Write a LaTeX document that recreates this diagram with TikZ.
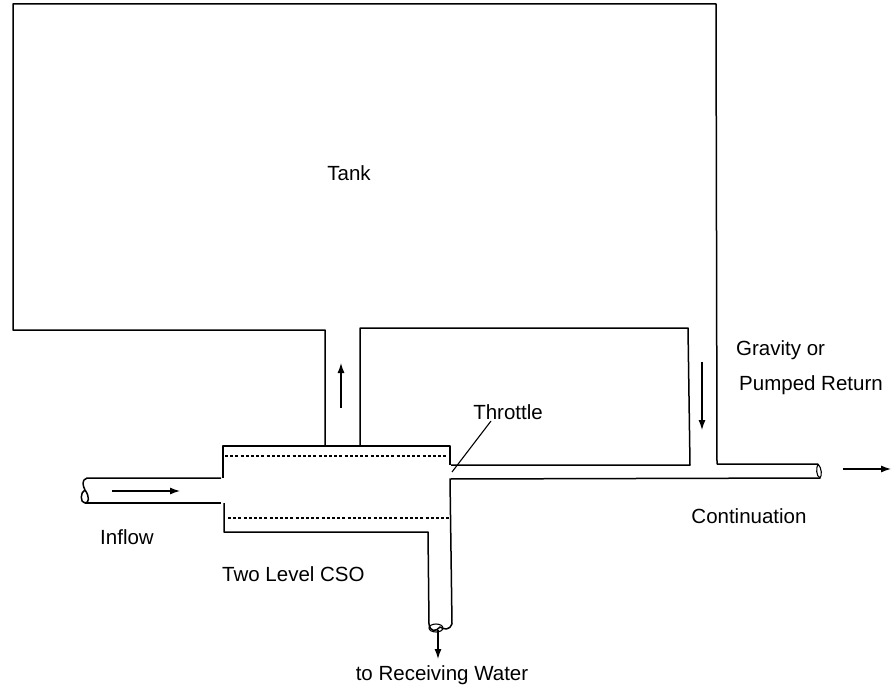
\documentclass[tikz,border=0pt]{standalone}
\usepackage{fontspec}
\setmainfont{Liberation Sans}
\usepackage{tikz}
\usetikzlibrary{arrows.meta, positioning, calc}
\tikzset{
    % walls of the tank and of the chamber
    wall/.style={line width=1.5pt, line join=round},
    % weir levels inside the chamber
    level/.style={line width=1.3pt, dash pattern=on 3pt off 2.2pt},
    % flow direction arrows
    flow/.style={-{Latex[length=10pt, width=7pt]}, line width=1.2pt},
    % plain text labels
    tag/.style={font=\fontsize{20.5}{24}\selectfont, inner sep=0pt},
}

\begin{document}
\begin{tikzpicture}[x=1pt, y=-1pt]
    \useasboundingbox (0, 0) rectangle (892, 690);

    % --- tank, return leg and continuation ---
    \draw[wall] (325, 446) -- (325, 330) -- (13, 330) -- (13, 4) -- (716, 4)
        -- (717, 464) -- (818, 464);
    \draw[wall] (360, 446) -- (360, 328) -- (688, 328) -- (690, 465) -- (451, 465);

    % --- two level chamber ---
    \draw[wall] (223, 478) -- (223, 446) -- (450, 446) -- (450, 465);
    \draw[wall] (224, 503) -- (224, 532) -- (428, 532) -- (429, 624);
    \draw[wall] (820, 478) -- (450, 479) -- (452, 624);
    \draw[level] (225, 456) -- (447, 456);
    \draw[level] (228, 518) -- (450, 518);

    % --- inflow pipe ---
    \draw[wall] (221, 478) -- (87, 478)
        .. controls (81, 480) and (83, 486) .. (85, 490)
        .. controls (90, 497) and (89, 503) .. (85, 503)
        .. controls (80, 503) and (80, 492) .. (85, 490);
    \draw[wall] (85, 503) -- (221, 503);

    % --- cut ends of the other two pipes ---
    \draw[line width=1.1pt] (818, 464) .. controls (822, 468) and (822, 476) .. (820, 478)
        .. controls (816, 476) and (816, 468) .. (818, 464);
    \draw[wall] (429, 624) .. controls (430, 632) and (436, 632) .. (440, 627)
        .. controls (444, 630) and (450, 630) .. (452, 624);
    \draw[line width=1.1pt] (436, 628) ellipse (7 and 4);

    % --- flow arrows ---
    \coordinate (inA) at (112, 491);
    \coordinate (inB) at (180, 491);
    \coordinate (upA) at (341, 408);
    \coordinate (upB) at (341, 363);
    \coordinate (backA) at (702, 362);
    \coordinate (backB) at (702, 430);
    \coordinate (outA) at (843, 469);
    \coordinate (outB) at (891, 469);
    \coordinate (dropA) at (438, 630);
    \coordinate (dropB) at (438, 659);
    \foreach \a/\b in {inA/inB, upA/upB, backA/backB, outA/outB, dropA/dropB}{
        \draw[flow] (\a) -- (\b);
    }

    % --- labels ---
    \node[tag] (tank) at (349, 173) {Tank};
    \node[tag] (throttle) at (508, 412) {Throttle};
    \node[tag, anchor=west] (gravity) at (736, 350) {Gravity or};
    \node[tag, anchor=west] (pumped) at (739, 385) {Pumped Return};
    \node[tag] (cont) at (749, 516) {Continuation};
    \node[tag] (inflow) at (127, 537) {Inflow};
    \node[tag, anchor=west] (cso) at (222, 574) {Two Level CSO};
    \node[tag] (recv) at (442, 675) {to Receiving Water};

    % throttle leader
    \coordinate (gap) at (452, 472);
    \draw[line width=1.1pt] (491, 421) -- (gap);
\end{tikzpicture}
\end{document}
